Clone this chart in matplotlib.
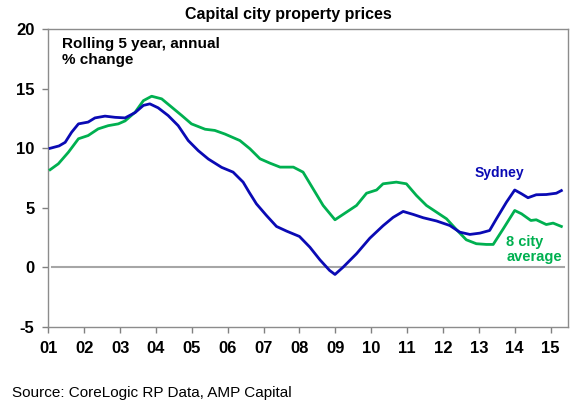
import matplotlib
matplotlib.use("Agg")
import matplotlib.pyplot as plt

plt.rcParams['font.family'] = ['Liberation Sans', 'DejaVu Sans']
plt.rcParams['axes.unicode_minus'] = False

# Sydney, rolling 5 year annual % change
syd_year = [2001.05, 2001.3, 2001.47, 2001.65, 2001.84, 2002.11, 2002.3, 2002.58,
            2002.86, 2003.14, 2003.42, 2003.65, 2003.83, 2004.06, 2004.34, 2004.62,
            2004.9, 2005.18, 2005.46, 2005.83, 2006.15, 2006.43, 2006.6, 2006.8,
            2007.08, 2007.36, 2007.64, 2008.0, 2008.29, 2008.57, 2008.84, 2008.99,
            2009.22, 2009.59, 2009.96, 2010.33, 2010.61, 2010.89, 2011.17, 2011.45,
            2011.82, 2012.19, 2012.47, 2012.75, 2013.03, 2013.3, 2013.49, 2013.77,
            2014.0, 2014.19, 2014.37, 2014.6, 2014.88, 2015.16, 2015.3]
syd_val = [10.0, 10.2, 10.5, 11.35, 12.05, 12.2, 12.55, 12.7,
           12.6, 12.55, 13.0, 13.6, 13.73, 13.4, 12.75, 11.9,
           10.65, 9.8, 9.1, 8.4, 8.0, 7.16, 6.3, 5.34,
           4.36, 3.44, 3.05, 2.6, 1.7, 0.64, -0.25, -0.59,
           0.03, 1.15, 2.45, 3.5, 4.2, 4.7, 4.45, 4.17,
           3.9, 3.52, 2.96, 2.77, 2.88, 3.1, 4.08, 5.48,
           6.5, 6.18, 5.85, 6.1, 6.12, 6.23, 6.45]

# 8 capital city average
avg_year = [2001.05, 2001.28, 2001.56, 2001.84, 2002.11, 2002.39, 2002.67, 2002.95,
            2003.14, 2003.42, 2003.65, 2003.88, 2004.16, 2004.44, 2004.72, 2004.99,
            2005.37, 2005.64, 2005.92, 2006.34, 2006.62, 2006.9, 2007.18, 2007.46,
            2007.83, 2008.1, 2008.38, 2008.66, 2008.99, 2009.31, 2009.59, 2009.87,
            2010.15, 2010.33, 2010.7, 2010.98, 2011.26, 2011.54, 2011.82, 2012.1,
            2012.38, 2012.65, 2012.93, 2013.21, 2013.4, 2013.68, 2014.0, 2014.19,
            2014.45, 2014.6, 2014.88, 2015.07, 2015.3]
avg_val = [8.2, 8.7, 9.67, 10.8, 11.07, 11.63, 11.9, 12.05,
           12.3, 13.03, 14.0, 14.37, 14.15, 13.45, 12.75, 12.05,
           11.6, 11.5, 11.2, 10.65, 9.96, 9.12, 8.75, 8.42,
           8.42, 8.0, 6.6, 5.2, 4.0, 4.64, 5.2, 6.23,
           6.5, 7.02, 7.16, 7.02, 6.04, 5.2, 4.64, 4.08,
           3.16, 2.32, 1.99, 1.93, 1.93, 3.24, 4.78, 4.5,
           3.94, 4.0, 3.6, 3.72, 3.44]

tick_years = list(range(2001, 2016))
tick_labels = ['%02d' % (y % 100) for y in tick_years]

blue = '#0A0AB4'
green = '#00B050'

fig = plt.figure(figsize=(5.8, 4.05), dpi=100)
ax = fig.add_axes([0.0833, 0.1926, 0.8957, 0.7354])

ax.axhline(0, xmin=0.008, xmax=0.993, color='#a6a6a6', lw=1.5, zorder=1)
ax.plot(avg_year, avg_val, color=green, lw=2.0, zorder=3)
ax.plot(syd_year, syd_val, color=blue, lw=2.0, zorder=4)

ax.set_xlim(2001, 2015.48)
ax.set_ylim(-5, 20)
ax.set_yticks([-5, 0, 5, 10, 15, 20])
ax.set_xticks(tick_years)
ax.set_xticklabels(tick_labels)
for lab in ax.get_xticklabels() + ax.get_yticklabels():
    lab.set_fontweight('bold')
    lab.set_fontsize(12)
ax.tick_params(axis='both', direction='out', length=4, width=1, color='#808080')
ax.tick_params(axis='x', pad=6)
ax.tick_params(axis='y', pad=6)
for s in ax.spines.values():
    s.set_color('#8c8c8c')
    s.set_linewidth(1)

fig.text(0.497, 0.965, 'Capital city property prices', ha='center', va='center',
         fontsize=11.5, fontweight='bold')
ax.text(2001.38, 19.35, 'Rolling 5 year, annual\n% change', ha='left', va='top',
        fontsize=11, fontweight='bold', linespacing=1.2)
ax.text(2012.89, 7.9, 'Sydney', color=blue, ha='left', va='center',
        fontsize=10, fontweight='bold')
ax.text(2013.77, 1.5, '8 city\naverage', color=green, ha='left', va='center',
        fontsize=10.5, fontweight='bold', linespacing=1.1)
fig.text(0.02, 0.0296, 'Source: CoreLogic RP Data, AMP Capital', ha='left', va='center',
         fontsize=11)

fig.savefig('out.png', dpi=100)
